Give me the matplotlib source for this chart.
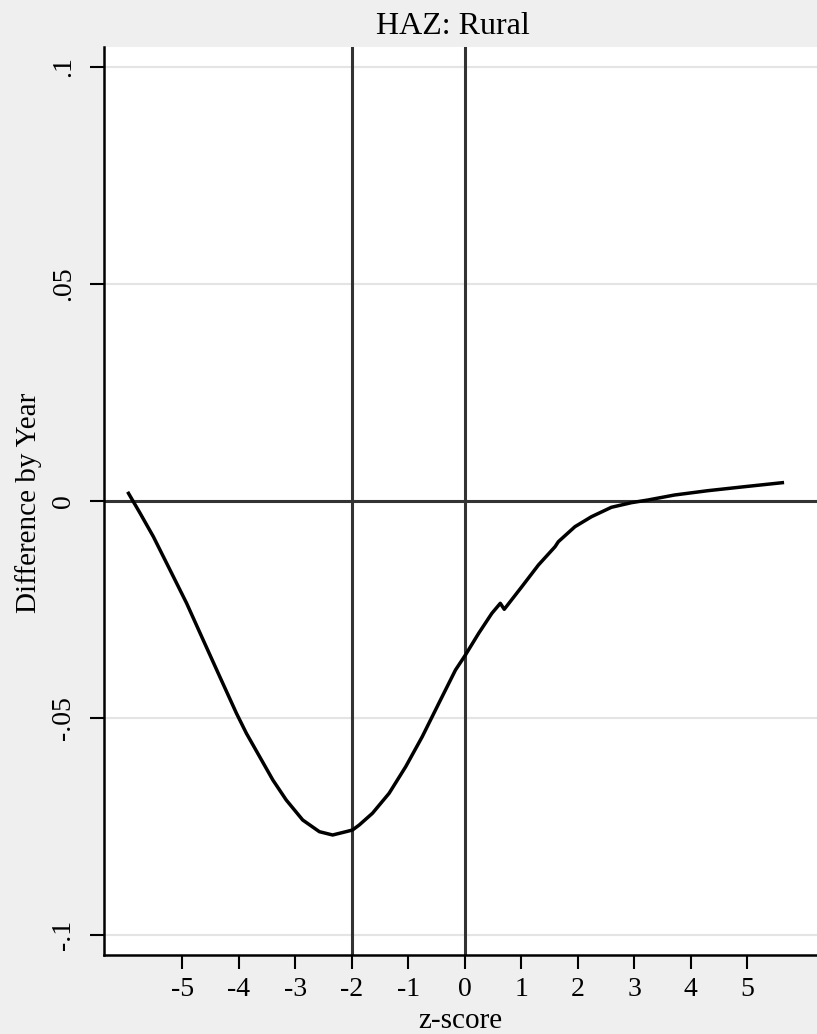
import matplotlib.pyplot as plt
import numpy as np

# curve (z-score vs difference by year)
zscore = [-5.956, -5.750, -5.515, -5.220, -4.926, -4.633, -4.339, -4.044, -3.868, -3.633,
          -3.399, -3.162, -2.870, -2.575, -2.340, -2.104, -1.988, -1.869, -1.635, -1.340,
          -1.046, -0.753, -0.459, -0.164, 0.012, 0.247, 0.481, 0.630, 0.700, 1.011,
          1.305, 1.600, 1.658, 1.952, 2.245, 2.598, 2.951, 3.245, 3.716, 4.303,
          4.951, 5.626]
diff = [0.00177, -0.00283, -0.00823, -0.01590, -0.02357, -0.03203, -0.04048, -0.04891, -0.05352, -0.05891,
        -0.06428, -0.06889, -0.07350, -0.07619, -0.07695, -0.07619, -0.07580, -0.07465, -0.07195, -0.06735,
        -0.06122, -0.05431, -0.04661, -0.03894, -0.03548, -0.03048, -0.02587, -0.02357, -0.02495, -0.01975,
        -0.01475, -0.01053, -0.00938, -0.00592, -0.00362, -0.00145, -0.00039, 0.00023, 0.00138, 0.00237,
        0.00329, 0.00422]

xticks = [-5, -4, -3, -2, -1, 0, 1, 2, 3, 4, 5]
yticks = [-0.1, -0.05, 0, 0.05, 0.1]
ytick_labels = ['-.1', '-.05', '0', '.05', '.1']
vlines = [-2, 0]

plt.rcParams['font.family'] = ['Liberation Serif', 'DejaVu Serif']

bg = '#efefef'
fig = plt.figure(figsize=(8.17, 10.34), dpi=100, facecolor=bg)
ax = fig.add_axes([104/817, 1 - 955/1034, 1 - 104/817, (955 - 47)/1034])
ax.set_facecolor('white')

ax.set_xlim(-6.39, 6.24)
ax.set_ylim(-0.1046, 0.1046)

# grid
for y in yticks:
    ax.axhline(y, color='#e4e4e4', lw=1.5, zorder=0)

ax.axhline(0, color='#333333', lw=2.2, zorder=1)
for v in vlines:
    ax.axvline(v, color='#333333', lw=2.2, zorder=1)

ax.plot(zscore, diff, color='black', lw=2.5, zorder=3, solid_joinstyle='round')

ax.set_xticks(xticks)
ax.set_xticklabels([str(t) for t in xticks])
ax.set_yticks(yticks)
ax.set_yticklabels(ytick_labels, rotation=90, va='center')
ax.tick_params(axis='both', length=10, width=1.5, labelsize=20, pad=6)
ax.tick_params(axis='y', pad=10)

for s in ['top', 'right']:
    ax.spines[s].set_visible(False)
for s in ['left', 'bottom']:
    ax.spines[s].set_linewidth(1.8)

fig.text(453/817, 1 - 26/1034, 'HAZ: Rural', ha='center', va='center', fontsize=23)
fig.text(460/817, 1 - 1021/1034, 'z-score', ha='center', va='center', fontsize=21)
fig.text(29/817, 1 - 503/1034, 'Difference by Year', ha='center', va='center',
         rotation=90, fontsize=21)

fig.savefig('out.png', dpi=100, facecolor=bg)
